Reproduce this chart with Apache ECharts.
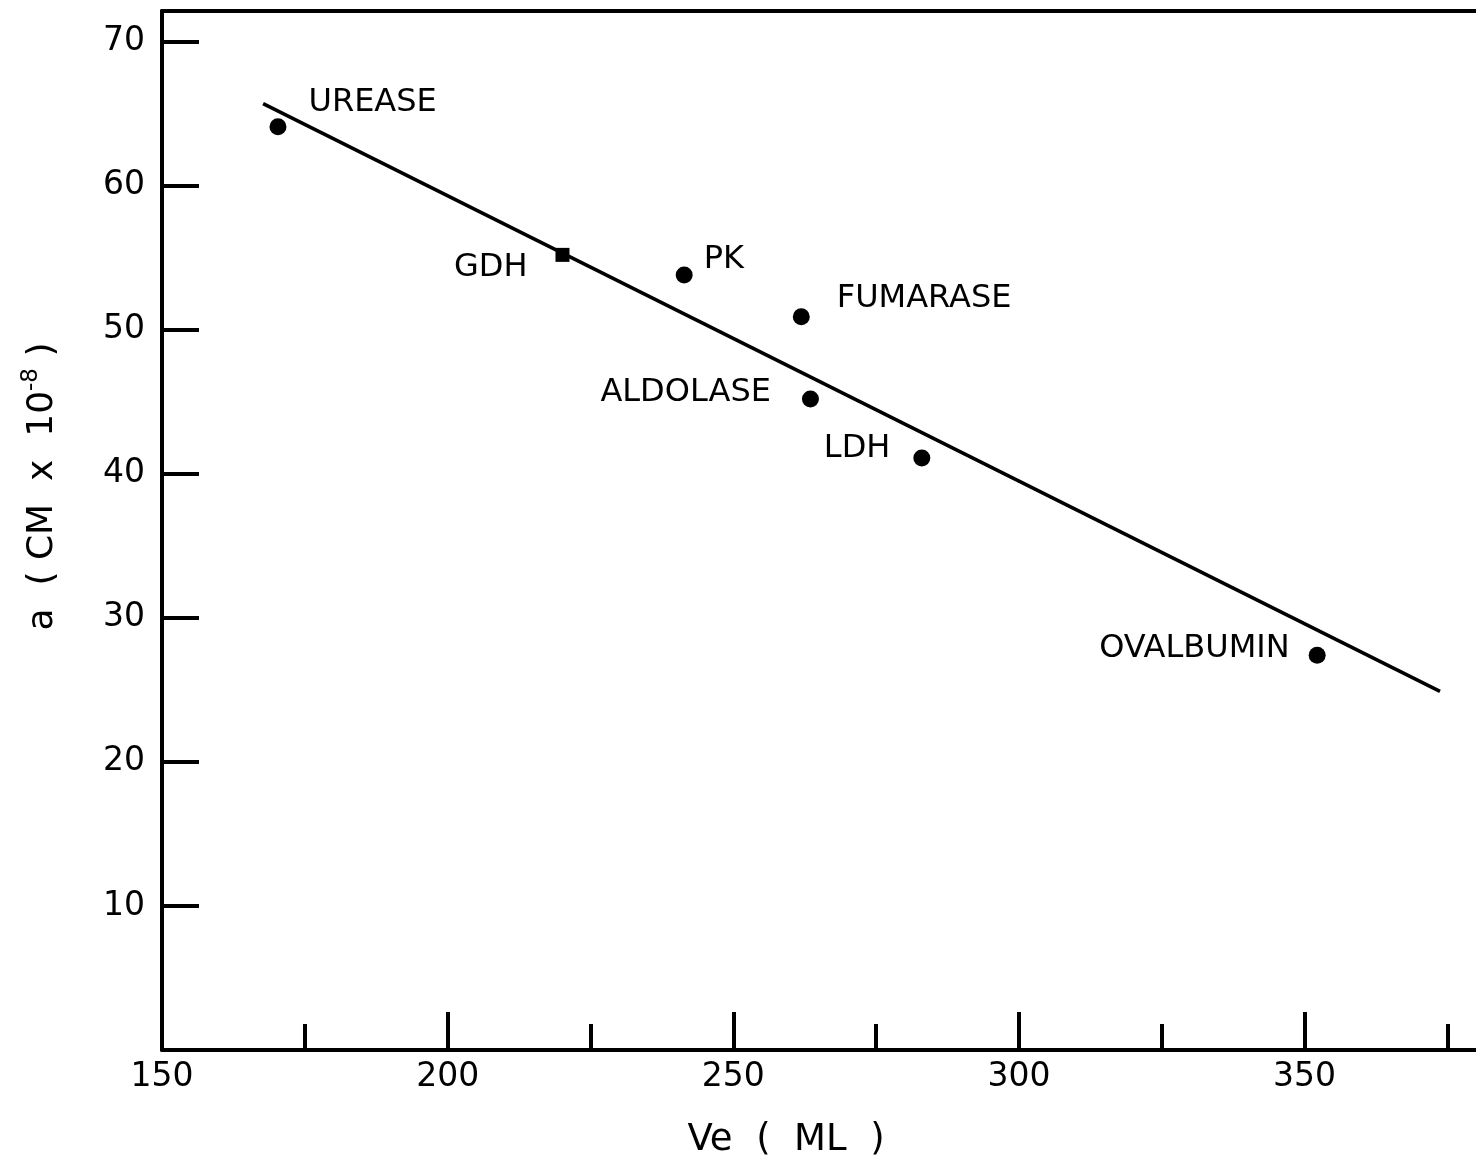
<!DOCTYPE html>
<html>
<head>
<meta charset="utf-8">
<title>Stokes radius vs elution volume</title>
<script src="https://cdn.jsdelivr.net/npm/echarts@6/dist/echarts.min.js"></script>
<style>
  html, body { margin: 0; padding: 0; background: #fff; }
  #chart { width: 1476px; height: 1158px; }
</style>
</head>
<body>
<div id="chart"></div>
<script>
// Calibration proteins: elution volume Ve (ml) and Stokes radius a (cm x 10^-8)
const proteins = ['UREASE', 'GDH', 'PK', 'FUMARASE', 'ALDOLASE', 'LDH', 'OVALBUMIN'];
const elutionVolume = [170.3, 220.1, 241.4, 261.9, 263.5, 283.0, 352.2];
const stokesRadius = [64.1, 55.2, 53.8, 50.9, 45.2, 41.1, 27.4];

// Calibration line end points
const fitVolume = [167.7, 373.7];
const fitRadius = [65.7, 24.9];

// Axis ticks
const xLabelTicks = [150, 200, 250, 300, 350];
const xMinorTicks = [175, 225, 275, 325, 375];
const yLabelTicks = [10, 20, 30, 40, 50, 60, 70];

// Marker shape and label placement per protein
const markerShape = { GDH: 'rect' };
const labelPlacement = {
  UREASE:    { position: 'right', distance: 22, offset: [0, -24] },
  GDH:       { position: 'left',  distance: 28, offset: [0, 13] },
  PK:        { position: 'right', distance: 11, offset: [0, -15] },
  FUMARASE:  { position: 'right', distance: 27, offset: [0, -18] },
  ALDOLASE:  { position: 'left',  distance: 31, offset: [0, -6] },
  LDH:       { position: 'left',  distance: 23, offset: [0, -9] },
  OVALBUMIN: { position: 'left',  distance: 19, offset: [0, -7] }
};

const FONT = 'DejaVu Sans';
const INK = '#000';

const points = proteins.map(function (name, i) {
  const shape = markerShape[name] || 'circle';
  const place = labelPlacement[name];
  return {
    name: name,
    value: [elutionVolume[i], stokesRadius[i]],
    symbol: shape,
    symbolSize: shape === 'rect' ? 14 : 17,
    label: {
      show: true,
      formatter: name,
      position: place.position,
      distance: place.distance,
      offset: place.offset
    }
  };
});

const fitLine = fitVolume.map(function (v, i) { return [v, fitRadius[i]]; });

const chart = echarts.init(document.getElementById('chart'), null, { renderer: 'canvas' });

chart.setOption({
  animation: false,
  backgroundColor: '#fff',
  grid: { left: 162, right: 0, top: 11, bottom: 108, containLabel: false, outerBoundsMode: 'none' },
  xAxis: [
    {
      type: 'value', min: 150, max: 380, position: 'bottom',
      splitLine: { show: false },
      axisLine: { show: true, lineStyle: { color: INK, width: 4 } },
      axisTick: { show: true, inside: true, length: 38, customValues: xLabelTicks,
                  lineStyle: { color: INK, width: 4 } },
      axisLabel: { customValues: xLabelTicks, color: INK, fontFamily: FONT,
                   fontSize: 33, margin: 11 },
      name: 'Ve  (  ML  )',
      nameLocation: 'middle',
      nameGap: 72,
      nameTextStyle: { color: INK, fontFamily: FONT, fontSize: 37, padding: [0, 66, 0, 0] }
    },
    {
      type: 'value', min: 150, max: 380, position: 'bottom',
      splitLine: { show: false },
      axisLine: { show: false },
      axisTick: { show: true, inside: true, length: 26, customValues: xMinorTicks,
                  lineStyle: { color: INK, width: 4 } },
      axisLabel: { show: false }
    },
    {
      type: 'value', min: 150, max: 380, position: 'top',
      splitLine: { show: false },
      axisLine: { show: true, lineStyle: { color: INK, width: 4 } },
      axisTick: { show: false },
      axisLabel: { show: false }
    }
  ],
  yAxis: {
    type: 'value', min: 0, max: 72.13,
    splitLine: { show: false },
    axisLine: { show: true, lineStyle: { color: INK, width: 4 } },
    axisTick: { show: true, inside: true, length: 37, customValues: yLabelTicks,
                lineStyle: { color: INK, width: 4 } },
    axisLabel: { customValues: yLabelTicks, color: INK, fontFamily: FONT,
                 fontSize: 33, margin: 17 },
    name: '{b|a  ( CM  x  10}{s|-8}{b| )}',
    nameLocation: 'middle',
    nameRotate: 90,
    nameGap: 96,
    nameTextStyle: {
      color: INK, fontFamily: FONT, padding: [0, 0, 0, 88],
      rich: {
        b: { color: INK, fontFamily: FONT, fontSize: 36, lineHeight: 46 },
        s: { color: INK, fontFamily: FONT, fontSize: 23, lineHeight: 23, verticalAlign: 'top' }
      }
    }
  },
  series: [
    {
      type: 'line',
      xAxisIndex: 0,
      yAxisIndex: 0,
      data: fitLine,
      showSymbol: false,
      symbol: 'none',
      lineStyle: { color: INK, width: 3.5 },
      z: 2,
      silent: true
    },
    {
      type: 'scatter',
      xAxisIndex: 0,
      yAxisIndex: 0,
      data: points,
      itemStyle: { color: INK, opacity: 1 },
      label: { color: INK, fontFamily: FONT, fontSize: 32 },
      z: 3
    }
  ]
});
</script>
</body>
</html>
